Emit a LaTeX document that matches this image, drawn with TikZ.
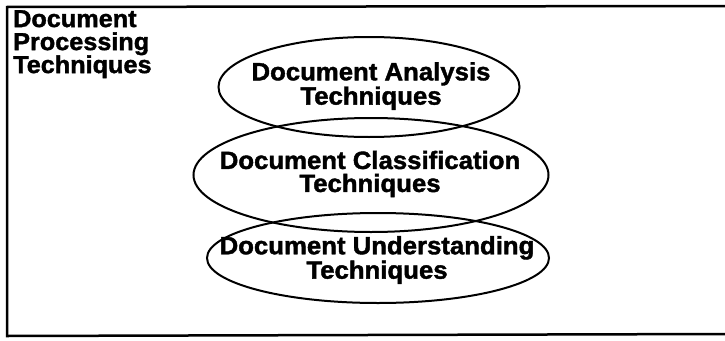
\documentclass[tikz,border=0pt]{standalone}
\usepackage{fontspec}
\setmainfont{Liberation Sans}
\newfontfamily\heavy[FakeBold=1.6,FakeStretch=1.03]{Liberation Sans Bold}
\usetikzlibrary{shapes.geometric}
\tikzset{
  frameline/.style={line width=2.5pt},
  oval/.style={draw, ellipse, line width=2pt, inner sep=0pt},
  ovaltext/.style={align=center, inner sep=0pt,
    font=\heavy\fontsize{25}{23}\selectfont},
  titletext/.style={align=left, inner sep=0pt, anchor=north west,
    font=\heavy\fontsize{24.5}{23}\selectfont}
}
\begin{document}
\begin{tikzpicture}[x=1pt,y=-1pt]
\useasboundingbox (0,0) rectangle (725,340);
\coordinate (tl) at (7,7);
\coordinate (tr) at (725,6);
\coordinate (bl) at (7,336);
\coordinate (br) at (725,334);
\draw[frameline] (tr) -- (tl) -- (bl) -- (br);
\node[titletext] (title) at (13,10) {Document\\Processing\\Techniques};
\node[oval, minimum width=301pt, minimum height=100pt] (ana) at (369,87) {};
\node[oval, minimum width=355pt, minimum height=114pt] (cls) at (371,175) {};
\node[oval, minimum width=342pt, minimum height=90pt] (und) at (378,258) {};
\node[ovaltext] (anat) at (371,86) {Document Analysis\\Techniques};
\node[ovaltext] (clst) at (370,174) {Document Classification\\Techniques};
\node[ovaltext] (undt) at (377,260) {Document Understanding\\Techniques};
\end{tikzpicture}
\end{document}
